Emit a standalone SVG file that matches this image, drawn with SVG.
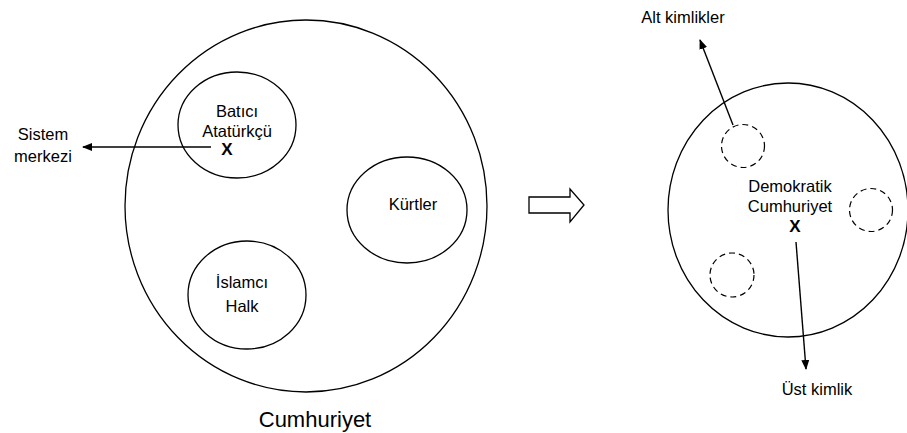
<svg xmlns="http://www.w3.org/2000/svg" width="907" height="433" viewBox="0 0 907 433">
<style>
.c{fill:none;stroke:#000;stroke-width:1.3}
.d{fill:none;stroke:#000;stroke-width:1.2;stroke-dasharray:6 4}
.t{font-family:"Liberation Sans",Arial,sans-serif;font-size:16.5px;fill:#000;text-anchor:middle}
.x{font-family:"Liberation Sans",Arial,sans-serif;font-size:17px;font-weight:bold;fill:#000;text-anchor:middle}
.big{font-size:22px}
.a{stroke:#000;stroke-width:1.4;fill:none;marker-end:url(#ah)}
</style>
<defs>
<marker id="ah" viewBox="0 0 10 10" refX="9" refY="5" markerWidth="10" markerHeight="10" markerUnits="userSpaceOnUse" orient="auto">
<path d="M0,1 L10,5 L0,9 Z" fill="#000"/>
</marker>
</defs>
<rect width="907" height="433" fill="#fff"/>
<g id="cumhuriyet">
<ellipse class="c" cx="306" cy="206" rx="181" ry="186"/>
<text class="t big" x="315" y="427">Cumhuriyet</text>
</g>
<g id="batici">
<ellipse class="c" cx="237" cy="125" rx="59" ry="53"/>
<text class="t" x="237" y="117">Batıcı</text>
<text class="t" x="237" y="137">Atatürkçü</text>
<text class="x" x="227" y="155">X</text>
</g>
<g id="kurtler">
<ellipse class="c" cx="407" cy="210" rx="60" ry="53"/>
<text class="t" x="413" y="210">Kürtler</text>
</g>
<g id="islamci">
<ellipse class="c" cx="247" cy="295" rx="59" ry="54"/>
<text class="t" x="242" y="288">İslamcı</text>
<text class="t" x="242" y="312">Halk</text>
</g>
<g id="sistem">
<text class="t" x="43" y="140">Sistem</text>
<text class="t" x="43" y="162">merkezi</text>
</g>
<g id="transform-arrow">
<path d="M529,197 L570,197 L570,189 L584,205 L570,222 L570,213 L529,213 Z" fill="#fff" stroke="#000" stroke-width="1.3"/>
</g>
<g id="demokratik">
<ellipse class="c" cx="788" cy="210" rx="120" ry="127"/>
<text class="t" x="790" y="192">Demokratik</text>
<text class="t" x="790" y="212">Cumhuriyet</text>
<text class="x" x="795" y="232">X</text>
</g>
<g id="alt1"><circle class="d" cx="743" cy="146" r="21.5"/></g>
<g id="alt2"><circle class="d" cx="871" cy="210" r="21.5"/></g>
<g id="alt3"><circle class="d" cx="732" cy="275" r="22"/></g>
<g id="altlabel"><text class="t" x="683" y="23">Alt kimlikler</text></g>
<g id="ustlabel"><text class="t" x="817" y="395">Üst kimlik</text></g>
<g id="connectors">
<line class="a" x1="211" y1="147" x2="83" y2="147"/>
<line class="a" x1="733" y1="125" x2="700" y2="40"/>
<line class="a" x1="796" y1="242" x2="806" y2="369"/>
</g>
</svg>
